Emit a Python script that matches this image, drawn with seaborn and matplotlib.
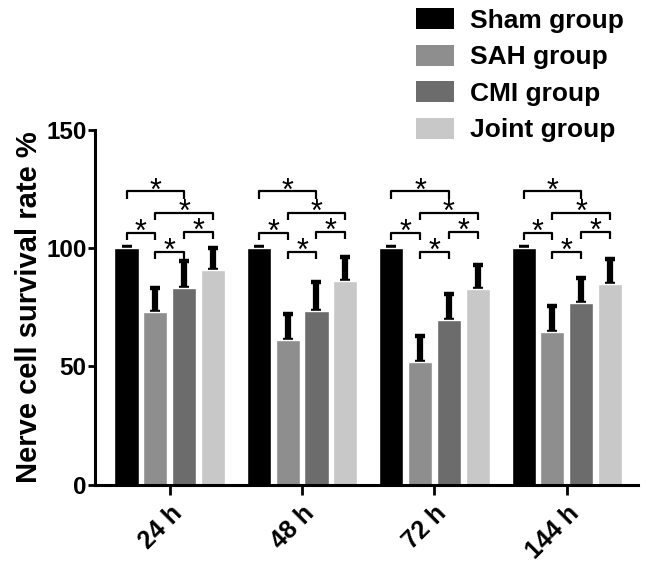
import seaborn as sns
import matplotlib.pyplot as plt
import matplotlib.patches as mpatches
import pandas as pd
import numpy as np

# time points and groups
times = ['24 h', '48 h', '72 h', '144 h']
groups = ['Sham group', 'SAH group', 'CMI group', 'Joint group']
colors = ['#000000', '#8e8e8e', '#6c6c6c', '#c8c8c8']

# mean survival rate (%) per group at each time point
sham_mean = [100, 100, 100, 100]
sah_mean = [73.1, 61.3, 51.8, 64.5]
cmi_mean = [83.0, 73.5, 69.7, 76.8]
joint_mean = [91.0, 86.2, 82.8, 84.8]

# standard deviations (upper error bars)
sham_sd = [0.6, 0.6, 0.6, 0.6]
sah_sd = [10.1, 10.8, 10.9, 11.1]
cmi_sd = [11.6, 12.1, 10.9, 10.5]
joint_sd = [9.3, 10.3, 9.9, 10.5]

# significance brackets: pairs of group indices and bracket heights
bracket_pairs = [(0, 2), (1, 3), (0, 1), (2, 3), (1, 2)]
bracket_y = [124, 115, 106.5, 107, 98.5]

means = [sham_mean, sah_mean, cmi_mean, joint_mean]
sds = [sham_sd, sah_sd, cmi_sd, joint_sd]

df = pd.DataFrame({
    'time': np.tile(times, len(groups)),
    'group': np.repeat(groups, len(times)),
    'rate': np.concatenate(means),
    'sd': np.concatenate(sds),
})

sns.set_style('ticks')
plt.rcParams['font.family'] = ['Liberation Sans', 'DejaVu Sans']
plt.rcParams['font.weight'] = 'bold'
plt.rcParams['axes.labelweight'] = 'bold'
plt.rcParams['text.color'] = 'black'
plt.rcParams['axes.labelcolor'] = 'black'
plt.rcParams['axes.edgecolor'] = 'black'
plt.rcParams['xtick.color'] = 'black'
plt.rcParams['ytick.color'] = 'black'

fig = plt.figure(figsize=(6.46, 5.65), dpi=100)
ax = fig.add_axes([0.147, 0.142, 0.841, 0.628])

sns.barplot(data=df, x='time', y='rate', hue='group', order=times, hue_order=groups,
            palette=colors, errorbar=None, width=0.87, gap=0.16, legend=False,
            saturation=1, ax=ax)

# bar centres as placed by seaborn
bar_containers = list(ax.containers)
centers = np.zeros((len(groups), len(times)))
for h, cont in enumerate(bar_containers):
    for i, bar in enumerate(cont.patches):
        centers[h, i] = bar.get_x() + bar.get_width() / 2

# error bars (upper only, lower half hidden behind the bars)
for h in range(len(groups)):
    ax.errorbar(centers[h], means[h], yerr=[np.zeros(len(times)), sds[h]], fmt='none',
                ecolor='black', elinewidth=4.5, capsize=3.6, capthick=3.2, zorder=0.5)

tick_len = 3
for i in range(len(times)):
    for (a, b), y in zip(bracket_pairs, bracket_y):
        xa, xb = centers[a, i], centers[b, i]
        ax.plot([xa, xa, xb, xb], [y - tick_len, y, y, y - tick_len],
                color='black', lw=1.6, clip_on=False, solid_capstyle='butt')
        ax.annotate('*', xy=((xa + xb) / 2, y), xytext=(0, -6), textcoords='offset points',
                    ha='center', va='baseline', fontsize=22, fontweight='normal')

ax.set_ylim(0, 150)
ax.set_yticks([0, 50, 100, 150])
ax.set_xlim(-0.565, 3.54)
ax.set_xlabel('')
ax.set_ylabel('Nerve cell survival rate %', fontsize=21, fontweight='bold', labelpad=2)

for side in ['top', 'right']:
    ax.spines[side].set_visible(False)
for side in ['left', 'bottom']:
    ax.spines[side].set_linewidth(2.2)
    ax.spines[side].set_color('black')
ax.tick_params(axis='y', length=5, width=2, pad=1, labelsize=17.5, colors='black')
ax.tick_params(axis='x', length=7, width=2, pad=5, labelsize=18, colors='black')
for lab in ax.get_xticklabels():
    lab.set_rotation(45)
    lab.set_ha('right')
    lab.set_rotation_mode('anchor')
    lab.set_fontweight('bold')
for lab in ax.get_yticklabels():
    lab.set_fontweight('bold')

handles = [mpatches.Patch(facecolor=c, edgecolor='none', label=g) for c, g in zip(colors, groups)]
fig.legend(handles=handles, loc='upper left', bbox_to_anchor=(0.636, 0.995),
           frameon=False, fontsize=19, handlelength=1.45, handleheight=0.85,
           handletextpad=0.6, labelspacing=0.45, borderpad=0.2, borderaxespad=0)

fig.savefig('out.png', dpi=100)
